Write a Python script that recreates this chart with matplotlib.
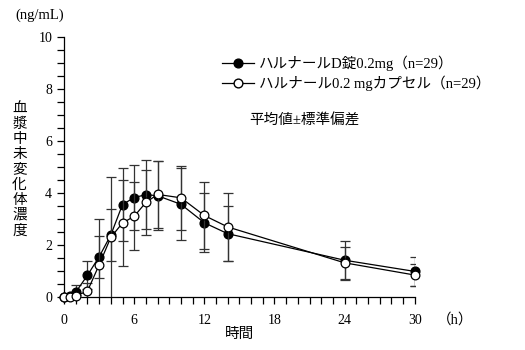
import matplotlib
matplotlib.use("Agg")
import matplotlib.pyplot as plt
from matplotlib.lines import Line2D
from matplotlib.ticker import MultipleLocator

plt.rcParams['font.family'] = ['Liberation Serif', 'Noto Sans CJK JP']

hours = [0, 0.5, 1, 2, 3, 4, 5, 6, 7, 8, 10, 12, 14, 24, 30]
tablet_mean = [0, 0.03, 0.19, 0.84, 1.55, 2.39, 3.56, 3.83, 3.94, 3.90, 3.57, 2.86, 2.44, 1.42, 0.99]
tablet_sd = [0, 0.02, 0.26, 0.54, 0.80, 1.00, 1.41, 1.25, 1.32, 1.32, 1.38, 1.13, 1.05, 0.75, 0.56]
capsule_mean = [0, 0.02, 0.05, 0.23, 1.24, 2.30, 2.85, 3.11, 3.64, 3.95, 3.82, 3.14, 2.70, 1.32, 0.85]
capsule_sd = [0, 0.01, 0.05, 0.30, 1.78, 2.33, 1.64, 1.30, 1.24, 1.30, 1.24, 1.30, 1.30, 0.62, 0.42]

tablet_label = "ハルナールD錠0.2mg（n=29）"
capsule_label = "ハルナール0.2 mgカプセル（n=29）"

fig = plt.figure(figsize=(5.25, 3.5), dpi=100)
ax = fig.add_axes([0.122, 0.151, 0.668, 0.743])

err_kw = dict(ecolor="#333333", elinewidth=0.9, capsize=3.5, capthick=0.9)
eb1 = ax.errorbar(hours, tablet_mean, yerr=tablet_sd, color="black", lw=0.9,
                  marker="o", ms=6.3, mfc="black", mec="black", zorder=3, **err_kw)
eb2 = ax.errorbar(hours, capsule_mean, yerr=capsule_sd, color="black", lw=0.9,
                  marker="o", ms=6.3, mfc="white", mec="black", mew=0.9,
                  zorder=4, **err_kw)
for eb in (eb1, eb2):
    eb[0].set_clip_on(False)

ax.set_xlim(0, 30)
ax.set_ylim(0, 10)
ax.set_xticks(range(0, 31, 6))
ax.set_yticks(range(0, 11, 2))
ax.xaxis.set_minor_locator(MultipleLocator(1))
ax.yaxis.set_minor_locator(MultipleLocator(0.5))
ax.tick_params(which="both", direction="out", width=0.9, length=5, labelsize=10)
ax.tick_params(axis="x", pad=7)
for side in ("top", "right"):
    ax.spines[side].set_visible(False)
for side in ("left", "bottom"):
    ax.spines[side].set_linewidth(0.9)

fig.text(0.03, 0.955, "(ng/mL)", fontsize=10.5, va="center")
fig.text(0.037, 0.514, "\n".join("血漿中未変化体濃度"), fontsize=10.5,
         ha="center", va="center", linespacing=1.2)
fig.text(0.457, 0.043, "時間", fontsize=10.5, ha="center", va="center")
fig.text(0.832, 0.086, "（h）", fontsize=10.5, ha="left", va="center")

handles = [
    Line2D([], [], color="black", lw=0.9, marker="o", ms=6.3, mfc="black", mec="black"),
    Line2D([], [], color="black", lw=0.9, marker="o", ms=6.3, mfc="white", mec="black"),
]
ax.legend(handles, [tablet_label, capsule_label], loc="upper left",
          bbox_to_anchor=(0.412, 0.857), bbox_transform=fig.transFigure,
          frameon=False, fontsize=10.5, handlelength=2.2, handletextpad=0.3,
          labelspacing=0.3, borderaxespad=0)
fig.text(0.475, 0.655, "平均値±標準偏差", fontsize=10.5, va="center")

fig.savefig("out.png", dpi=100)
